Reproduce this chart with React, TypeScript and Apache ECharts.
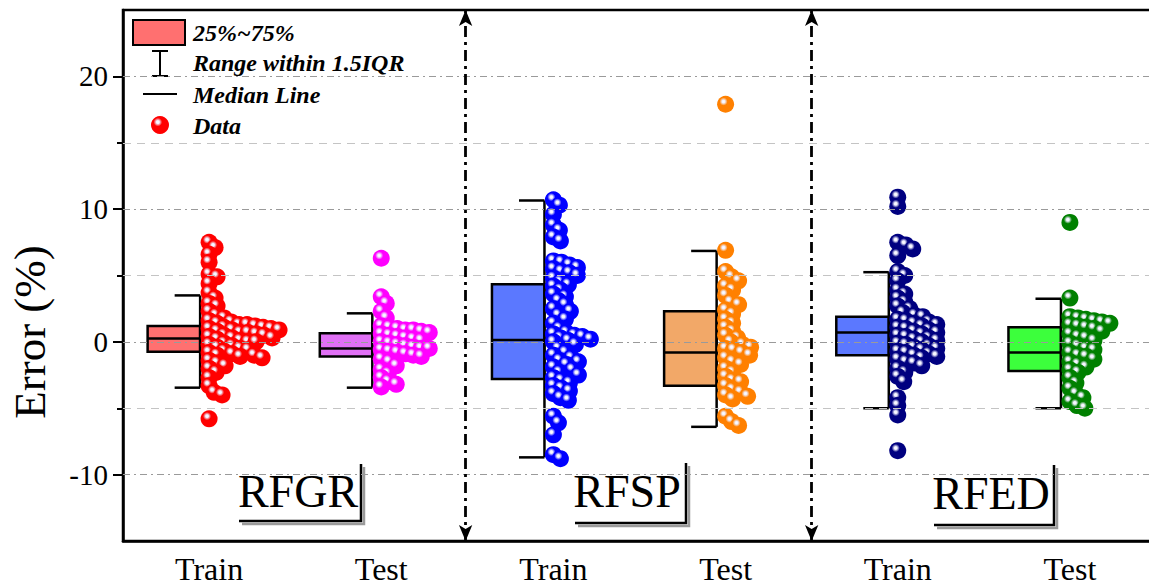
import React, { useEffect, useRef } from 'react';
import * as echarts from 'echarts';

const categories = ['Train', 'Test', 'Train', 'Test', 'Train', 'Test'];
const yTickLabels = [-10, 0, 10, 20];
const yMinorTicks = [-5, 5, 15];

// [lower whisker, Q1, median, Q3, upper whisker]
const boxStats = [
  [-3.45, -0.75, 0.25, 1.2, 3.5],
  [-3.45, -1.1, -0.5, 0.65, 2.15],
  [-8.7, -2.8, 0.15, 4.35, 10.65],
  [-6.4, -3.3, -0.8, 2.3, 6.85],
  [-5.0, -1.0, 0.7, 1.9, 5.25],
  [-5.0, -2.2, -0.8, 1.1, 3.25],
];
const boxColors = ['#FF7070', '#E070F5', '#5B78FF', '#F2A868', '#5B78FF', '#3CFF3C'];
const pointColors = ['#FF0000', '#FF00FF', '#0000FF', '#FF8000', '#000080', '#008000'];

const rfgrTrain = [7.5, 7.1, 6.6, 6.0, 5.1, 4.9, 4.4, 3.7, 3.3, 2.9, 2.7, 2.3, 2.0, 1.8, 1.6, 1.5, 1.4, 1.3, 1.3, 1.2, 1.1, 1.1, 1.0, 1.0, 0.9, 0.9, 0.8, 0.7, 0.7, 0.6, 0.5, 0.5, 0.4, 0.3, 0.3, 0.2, 0.1, 0.0, 0.0, -0.1, -0.2, -0.3, -0.4, -0.5, -0.6, -0.7, -0.8, -0.9, -1.0, -1.0, -1.1, -1.2, -1.4, -1.6, -1.8, -2.0, -2.3, -2.7, -3.3, -3.8, -4.0, -5.8];
const rfgrTest = [6.3, 3.4, 2.9, 2.3, 1.8, 1.2, 1.1, 1.0, 0.9, 0.9, 0.8, 0.7, 0.6, 0.5, 0.4, 0.3, 0.2, 0.1, 0.0, -0.1, -0.2, -0.3, -0.4, -0.5, -0.5, -0.6, -0.7, -0.8, -0.9, -1.0, -1.1, -1.3, -1.5, -1.8, -2.1, -2.4, -2.7, -3.0, -3.2, -3.4];
const rfspTrain = [10.7, 10.3, 9.6, 8.8, 8.4, 7.9, 7.6, 6.1, 6.0, 5.8, 5.6, 5.5, 5.3, 5.2, 5.0, 4.8, 4.5, 4.3, 4.2, 3.9, 3.6, 3.4, 3.1, 2.8, 2.5, 2.3, 2.0, 1.7, 1.4, 1.0, 0.7, 0.6, 0.5, 0.4, 0.3, 0.2, 0.1, 0.0, -0.2, -0.5, -0.8, -1.0, -1.2, -1.4, -1.5, -1.7, -1.9, -2.1, -2.3, -2.5, -2.7, -2.9, -3.1, -3.3, -3.5, -3.7, -3.9, -4.2, -4.4, -5.6, -6.1, -7.0, -8.5, -8.8];
const rfspTest = [17.9, 6.9, 5.3, 4.9, 4.6, 4.2, 3.9, 3.5, 3.0, 2.8, 2.4, 2.1, 1.7, 1.4, 1.1, 0.8, 0.5, 0.3, 0.0, -0.2, -0.4, -0.5, -0.6, -0.8, -1.0, -1.2, -1.5, -1.7, -2.0, -2.3, -2.6, -2.9, -3.0, -3.3, -3.6, -3.8, -4.0, -4.1, -4.3, -5.6, -6.0, -6.3];
const rfedTrain = [10.9, 10.2, 7.5, 7.3, 7.0, 6.5, 5.3, 5.0, 4.6, 3.9, 3.6, 3.3, 3.0, 2.7, 2.5, 2.2, 2.0, 1.9, 1.7, 1.6, 1.5, 1.4, 1.3, 1.2, 1.1, 1.0, 0.9, 0.8, 0.7, 0.6, 0.5, 0.4, 0.3, 0.2, 0.1, 0.0, -0.1, -0.2, -0.3, -0.4, -0.5, -0.6, -0.7, -0.8, -0.9, -1.0, -1.1, -1.2, -1.3, -1.5, -1.6, -1.8, -2.0, -2.3, -2.6, -3.0, -4.2, -4.8, -5.5, -8.2];
const rfedTest = [9.0, 3.3, 1.9, 1.8, 1.7, 1.6, 1.5, 1.4, 1.3, 1.2, 1.1, 1.0, 0.8, 0.6, 0.4, 0.3, 0.1, -0.1, -0.3, -0.5, -0.6, -0.8, -1.0, -1.1, -1.3, -1.5, -1.7, -1.9, -2.1, -2.3, -2.7, -3.1, -3.5, -3.9, -4.2, -4.5, -4.8, -5.0];
const seriesValues = [rfgrTrain, rfgrTest, rfspTrain, rfspTest, rfedTrain, rfedTest];

const groupLabels = ['RFGR', 'RFSP', 'RFED'];
const separators = [2.49, 4.5];

const FONT = '"Liberation Serif", "Times New Roman", serif';

// beeswarm layout (pixel scale of the grid)
const PX_X = 1033 / 6;
const PX_Y = 531 / 40;
function swarm(values: number[], center: number, minD = 7.8) {
  const sorted = [...values].sort((a, b) => b - a);
  const placed: { x: number; y: number }[] = [];
  const out: number[][] = [];
  for (const v of sorted) {
    const y = v * PX_Y;
    let xo = 0;
    for (;;) {
      const ok = placed.every((q) => (q.x - xo) ** 2 + (q.y - y) ** 2 >= minD * minD);
      if (ok) break;
      xo += 1;
    }
    placed.push({ x: xo, y });
    out.push([center + xo / PX_X, v]);
  }
  return out;
}

function sphere(c: string) {
  return new echarts.graphic.RadialGradient(0.38, 0.34, 0.7, [
    { offset: 0, color: '#ffffff' },
    { offset: 0.12, color: '#f0f0ff' },
    { offset: 0.34, color: c },
    { offset: 1, color: c },
  ]);
}

function labelFrame(text: string, tx: number, ty: number, x0: number, x1: number, yb: number, yt: number) {
  return {
    type: 'group',
    silent: true,
    children: [
      { type: 'polyline', shape: { points: [[x0 + 3, yb + 3], [x1 + 3, yb + 3], [x1 + 3, yt + 3]] }, style: { stroke: '#9a9a9a', lineWidth: 2.5, fill: null } },
      { type: 'polyline', shape: { points: [[x0, yb], [x1, yb], [x1, yt]] }, style: { stroke: '#000', lineWidth: 2.5, fill: null } },
      { type: 'text', style: { text, x: tx, y: ty, textAlign: 'center', textVerticalAlign: 'middle', fontSize: 46, fontFamily: FONT, fill: '#000' } },
    ],
  };
}

export default function App() {
  const ref = useRef<HTMLDivElement>(null);
  useEffect(() => {
    document.body.style.margin = '0';
    const chart = echarts.init(ref.current!, null, { renderer: 'svg' });

    const boxData = boxStats.map((s, i) => [i + 1, ...s]);

    const scatterSeries = seriesValues.map((vals, i) => ({
      type: 'scatter',
      xAxisIndex: 1,
      yAxisIndex: 0,
      symbolSize: 17,
      z: 4,
      silent: true,
      itemStyle: { color: sphere(pointColors[i]), opacity: 1 },
      data: swarm(vals, i + 1),
    }));

    const legendLabelStyle = { fontSize: 24, fontFamily: FONT, fontStyle: 'italic', fontWeight: 'bold', fill: '#000', textVerticalAlign: 'middle' };

    chart.setOption({
      animation: false,
      backgroundColor: '#fff',
      grid: { left: 123, top: 10, right: 0, bottom: 45, show: true, borderColor: '#000', borderWidth: 2.5, backgroundColor: 'transparent' },
      xAxis: [
        {
          type: 'category',
          data: categories,
          boundaryGap: true,
          axisLine: { onZero: false, lineStyle: { color: '#000', width: 2.5 } },
          axisTick: { alignWithLabel: true, length: 9, lineStyle: { width: 2, color: '#000' } },
          axisLabel: { fontSize: 32, fontFamily: FONT, color: '#000', margin: 12 },
          splitLine: { show: false },
        },
        { type: 'value', min: 0.5, max: 6.5, show: false, axisLine: { onZero: false } },
      ],
      yAxis: [
        {
          type: 'value',
          min: -15,
          max: 25,
          interval: 5,
          axisLine: { show: true, onZero: false, lineStyle: { color: '#000', width: 2.5 } },
          axisTick: { show: true, length: 10, customValues: yTickLabels, lineStyle: { width: 2, color: '#000' } },
          axisLabel: { customValues: yTickLabels, fontSize: 29, fontFamily: FONT, color: '#000', margin: 15 },
          splitLine: { show: false },
        },
        {
          type: 'value',
          min: -15,
          max: 25,
          interval: 5,
          position: 'left',
          axisLine: { show: false, onZero: false },
          axisTick: { show: true, length: 6, customValues: yMinorTicks, lineStyle: { width: 2, color: '#000' } },
          axisLabel: { show: false },
          splitLine: { show: false },
        },
      ],
      series: [
        {
          type: 'line',
          xAxisIndex: 1,
          yAxisIndex: 0,
          data: [],
          z: 1,
          silent: true,
          markLine: {
            silent: true,
            symbol: 'none',
            label: { show: false },
            data: [
              ...yTickLabels.map((v) => ({ yAxis: v, lineStyle: { type: [7, 4, 2, 4], color: '#9a9a9a', width: 1.2 } })),
              ...yMinorTicks.map((v) => ({ yAxis: v, lineStyle: { type: [8, 6], color: '#c4c4c4', width: 1.2 } })),
            ],
          },
        },
        {
          type: 'line',
          xAxisIndex: 1,
          yAxisIndex: 0,
          data: [],
          z: 5,
          silent: true,
          markLine: {
            silent: true,
            symbol: ['arrow', 'arrow'],
            symbolSize: [10, 16],
            label: { show: false },
            lineStyle: { type: [11, 5, 3, 5], color: '#000', width: 2.8 },
            data: separators.map((v) => ({ xAxis: v })),
          },
        },
        {
          type: 'custom',
          xAxisIndex: 1,
          yAxisIndex: 0,
          z: 3,
          silent: true,
          data: boxData,
          renderItem: (params: any, api: any) => {
            const c = api.value(0);
            const lo = api.value(1), q1 = api.value(2), md = api.value(3), q3 = api.value(4), hi = api.value(5);
            const xr = api.coord([c - 0.052, 0])[0];
            const xl = api.coord([c - 0.357, 0])[0];
            const xc = api.coord([c - 0.2, 0])[0];
            const yq1 = api.coord([c, q1])[1];
            const yq3 = api.coord([c, q3])[1];
            const ymd = api.coord([c, md])[1];
            const ylo = api.coord([c, lo])[1];
            const yhi = api.coord([c, hi])[1];
            const ls = { stroke: '#000', lineWidth: 2.5 };
            return {
              type: 'group',
              children: [
                { type: 'rect', shape: { x: xl, y: yq3, width: xr - xl, height: yq1 - yq3 }, style: { fill: boxColors[params.dataIndex], stroke: '#000', lineWidth: 2.5 } },
                { type: 'line', shape: { x1: xl, y1: ymd, x2: xr, y2: ymd }, style: ls },
                { type: 'line', shape: { x1: xr, y1: yhi, x2: xr, y2: ylo }, style: ls },
                { type: 'line', shape: { x1: xc, y1: yhi, x2: xr, y2: yhi }, style: ls },
                { type: 'line', shape: { x1: xc, y1: ylo, x2: xr, y2: ylo }, style: ls },
              ],
            };
          },
        },
        ...scatterSeries,
      ],
      graphic: [
        { type: 'text', rotation: Math.PI / 2, x: 30, y: 332, style: { text: 'Error (%)', textAlign: 'center', textVerticalAlign: 'middle', fontSize: 45, fontFamily: FONT, fill: '#000' } },
        { type: 'rect', shape: { x: 133, y: 20, width: 52, height: 25 }, style: { fill: '#FF7070', stroke: '#000', lineWidth: 2 } },
        { type: 'text', style: { ...legendLabelStyle, text: '25%~75%', x: 193, y: 33 } },
        { type: 'line', shape: { x1: 160, y1: 51, x2: 160, y2: 76 }, style: { stroke: '#000', lineWidth: 2 } },
        { type: 'line', shape: { x1: 152, y1: 51, x2: 168, y2: 51 }, style: { stroke: '#000', lineWidth: 2 } },
        { type: 'line', shape: { x1: 152, y1: 76, x2: 168, y2: 76 }, style: { stroke: '#000', lineWidth: 2 } },
        { type: 'text', style: { ...legendLabelStyle, text: 'Range within 1.5IQR', x: 193, y: 63 } },
        { type: 'line', shape: { x1: 143, y1: 94, x2: 177, y2: 94 }, style: { stroke: '#000', lineWidth: 2 } },
        { type: 'text', style: { ...legendLabelStyle, text: 'Median Line', x: 193, y: 95 } },
        { type: 'circle', shape: { cx: 160, cy: 125, r: 9 }, style: { fill: sphere('#FF0000') } },
        { type: 'text', style: { ...legendLabelStyle, text: 'Data', x: 193, y: 126 } },
        labelFrame(groupLabels[0], 298, 491, 239, 361, 521, 464),
        labelFrame(groupLabels[1], 627, 491, 575, 686, 523, 463),
        labelFrame(groupLabels[2], 991, 493, 934, 1054, 525, 465),
      ],
    });
    return () => chart.dispose();
  }, []);
  return (
    <div style={{ width: 1149, height: 586, overflow: 'hidden', position: 'relative' }}>
      <div ref={ref} style={{ width: 1156, height: 586 }} />
    </div>
  );
}
